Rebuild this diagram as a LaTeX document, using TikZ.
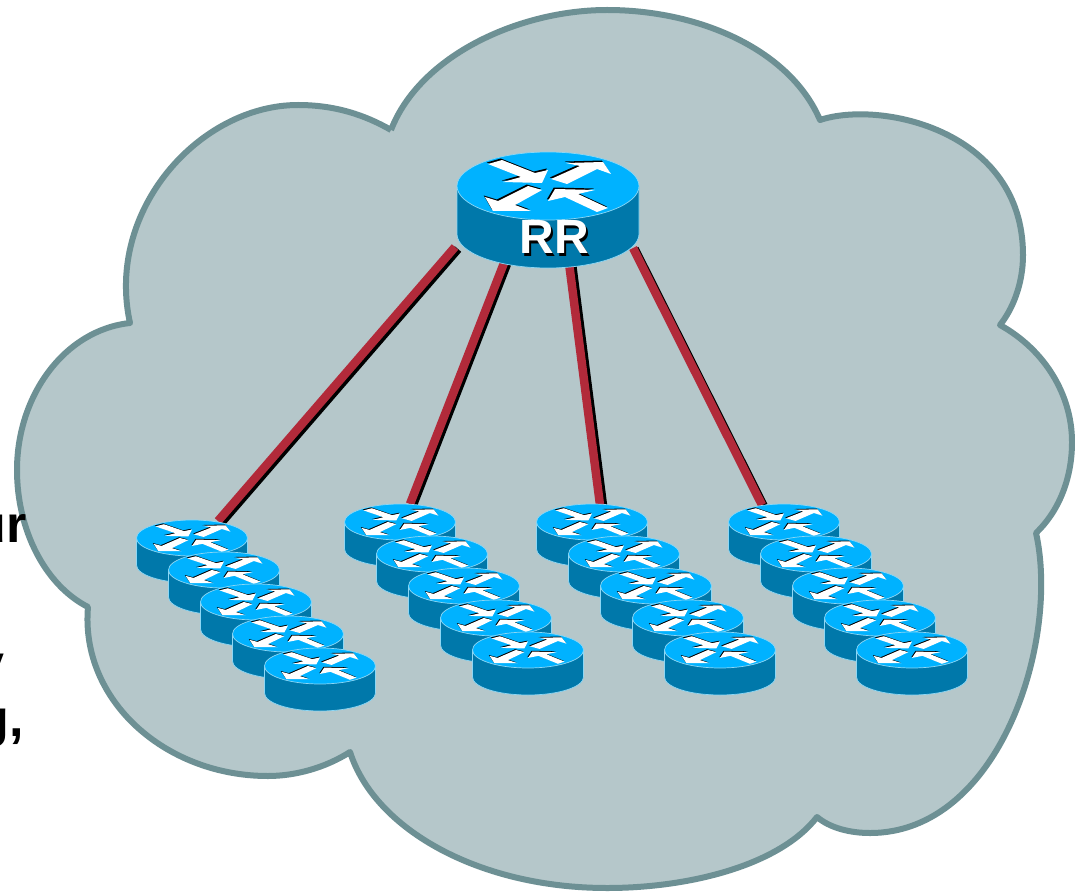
\documentclass[tikz,border=0pt]{standalone}
\usepackage{fontspec}
\setmainfont{Liberation Sans}
\definecolor{cloudfill}{RGB}{181,199,202}
\definecolor{cloudline}{RGB}{109,144,148}
\definecolor{rtop}{RGB}{0,178,255}
\definecolor{rside}{RGB}{0,120,170}
\definecolor{redge}{RGB}{140,215,245}
\definecolor{linkred}{RGB}{178,42,58}
\tikzset{
  cloudshape/.style={draw=cloudline,fill=cloudfill,line width=6pt,line join=round},
  linkline/.style={draw=linkred,line width=8.5pt},
  linkshadow/.style={draw=black,line width=8.5pt},
  sidetext/.style={font=\fontsize{52}{52}\selectfont\bfseries,text=black,inner sep=0pt,anchor=base east},
  rrlabel/.style={font=\fontsize{48}{48}\selectfont\bfseries,inner sep=0pt,anchor=base},
}
\newcommand{\arrowshape}[1]{%
    \fill[#1] (-60,-22) -- (-46,-26) -- (-13,-13) -- (0,-16) -- (-6,-3) -- (-45,-4) -- (-27,-9) -- cycle;
    \fill[#1] (3,-7) -- (32,-20) -- (18,-23) -- (55,-24) -- (63,-12) -- (49,-17) -- (19,-2) -- cycle;
    \fill[#1] (-6,4) -- (-20,0) -- (-50,15) -- (-63,11) -- (-55,25) -- (-17,25) -- (-33,19) -- cycle;
    \fill[#1] (0,15) -- (7,3) -- (47,4) -- (30,8) -- (60,22) -- (49,26) -- (17,11) -- cycle;}
\newcommand{\arrowset}{%
  \begin{scope}[shift={(-1.2,-1.5)}]\arrowshape{black}\end{scope}
  \arrowshape{white}}
% #1 name, #2 centre of the top face, #3 x half-axis, #4 y half-axis, #5 depth
\newcommand{\router}[5]{%
  \begin{scope}[shift={#2}]
    \coordinate (#1) at (0,0);
    \filldraw[fill=rside,draw=redge,line width=0.7pt]
      (-#3,0) -- (-#3,#5) arc[start angle=180,end angle=360,x radius=#3,y radius=-#4] -- (#3,0) -- cycle;
    \filldraw[fill=rtop,draw=redge,line width=0.7pt] (0,0) ellipse[x radius=#3,y radius=#4];
    \begin{scope}[xscale=#3/91,yscale=#4/34]\arrowset\end{scope}
  \end{scope}}
\begin{document}
\begin{tikzpicture}[x=1pt,y=-1pt]
\useasboundingbox (0,0) rectangle (1075,893);
\clip (0,0) rectangle (1075,893);
\fill[white] (0,0) rectangle (1075,893);
\draw[cloudshape]
  (391,130) .. controls (420,55) and (520,10) .. (607,10)
  .. controls (700,10) and (790,50) .. (820,120)
  .. controls (880,100) and (1023,130) .. (1023,255)
  .. controls (1023,285) and (1012,310) .. (1000,325)
  .. controls (1045,350) and (1072,395) .. (1072,442)
  .. controls (1072,480) and (1058,512) .. (1036,533)
  .. controls (1060,640) and (1000,833) .. (870,833)
  .. controls (850,833) and (830,828) .. (817,817)
  .. controls (780,865) and (690,888) .. (607,888)
  .. controls (480,888) and (375,830) .. (350,752)
  .. controls (325,768) and (295,776) .. (268,776)
  .. controls (165,776) and (80,700) .. (88,607)
  .. controls (45,585) and (17,530) .. (17,470)
  .. controls (17,395) and (65,330) .. (130,323)
  .. controls (105,210) and (200,105) .. (298,105)
  .. controls (335,105) and (365,115) .. (391,130);
\node[sidetext] (t1) at (27,542) {ur};
\node[sidetext] (t2) at (5,681) {y};
\node[sidetext] (t3) at (24,736) {g,};
% link ends
\coordinate (e1) at (218,521);
\coordinate (e2) at (410,504);
\coordinate (e3) at (600,505);
\coordinate (e4) at (762,505);
\coordinate (s1) at (455,247);
\coordinate (s2) at (504,263);
\coordinate (s3) at (569,263);
\coordinate (s4) at (633,248);
\foreach \p/\q/\dx/\dy in {s1/e1/3/2,s2/e2/3/1,s3/e3/3/0.5,s4/e4/1.6/0.8}{
  \draw[linkshadow] ([xshift=\dx pt,yshift=-\dy pt]\p) -- ([xshift=\dx pt,yshift=-\dy pt]\q);
  \draw[linkline] (\p) -- (\q);
}
\router{rr}{(548,186)}{91}{34}{48}
\node[rrlabel,text=black] (rrs) at (556,256) {RR};
\node[rrlabel,text=white] (rrt) at (554,254) {RR};
% groups
\foreach \g/\x/\y in {a/192/538,b/400/522,c/592/522,d/784/522}{
  \foreach \i in {0,...,4}{
    \pgfmathsetmacro{\cx}{\x+32*\i}
    \pgfmathsetmacro{\cy}{\y+32*\i}
    \router{\g\i}{(\cx,\cy)}{55.5}{18}{27}
  }
}
\end{tikzpicture}
\end{document}
